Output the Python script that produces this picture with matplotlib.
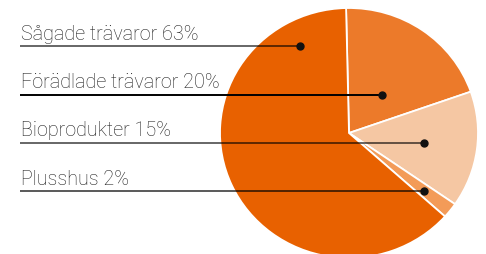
import matplotlib.pyplot as plt

labels = ["Sågade trävaror", "Förädlade trävaror", "Bioprodukter", "Plusshus"]
shares = [63, 20, 15, 2]
colors = ["#E86100", "#EC7A2A", "#F5C7A3", "#F39B58"]

# label layout in pixel coordinates (y from top)
line_y = [47, 95.5, 143.5, 192]
dot_x = [300, 382, 424, 424]
line_alpha = [0.6, 1.0, 0.6, 0.65]

W, H = 486, 255
fig = plt.figure(figsize=(W / 100, H / 100), dpi=100)

# pie sits in its own axes, slightly wider than tall like the original
cx, cy, rx, ry = 349, 134, 129, 125
pax = fig.add_axes([(cx - rx) / W, (H - cy - ry) / H, 2 * rx / W, 2 * ry / H])
order = [1, 2, 3, 0]
pax.pie(
    [shares[i] for i in order],
    colors=[colors[i] for i in order],
    startangle=91.3,
    counterclock=False,
    radius=1,
    wedgeprops=dict(edgecolor="white", linewidth=1.3),
)
pax.set_aspect("auto")
pax.set_xlim(-1, 1)
pax.set_ylim(-1, 1)
pax.axis("off")

ax = fig.add_axes([0, 0, 1, 1])
ax.patch.set_alpha(0)
for i, lab in enumerate(labels):
    y = H - line_y[i]
    ax.plot([20, dot_x[i]], [y, y], color="black", lw=1.4,
            alpha=line_alpha[i], solid_capstyle="butt", zorder=5)
    ax.plot(dot_x[i], y, "o", color="#111111", ms=5, zorder=6)
    ax.text(21, y + 7, f"{lab} {shares[i]}%", fontsize=14.2,
            family="Roboto", fontweight="light", color="#1e1e1e",
            va="baseline", ha="left")

ax.set_xlim(0, W)
ax.set_ylim(0, H)
ax.axis("off")

fig.savefig("out.png", dpi=100)
